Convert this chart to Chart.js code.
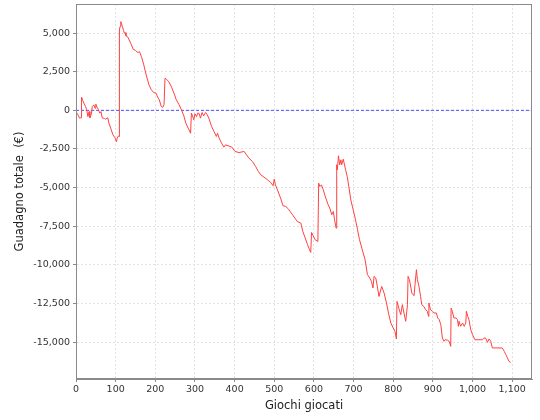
<!DOCTYPE html>
<html>
<head>
<meta charset="utf-8">
<script src="https://cdn.jsdelivr.net/npm/chart.js@4.4.0/dist/chart.umd.min.js"></script>
<style>
  html, body { margin: 0; padding: 0; background: #fff; }
</style>
</head>
<body>
<canvas id="chart" width="540" height="420"></canvas>
<script>
// x = games played, y = running total (EUR)
const gamesPlayed = [
  0, 5, 9, 13, 14, 17, 20, 24, 27, 30, 33, 35, 39, 41, 45, 48, 50, 53, 56, 60,
  63, 66, 72, 75, 80, 83, 89, 93, 98, 102, 104, 107, 108.5, 109.5, 111, 113, 117, 120, 122, 124,
  126, 131, 138, 144, 150, 156, 160, 165, 171, 177, 184, 190, 196, 202, 206, 210, 215, 219, 222, 224.5,
  228, 234, 241, 247, 253, 260, 266, 272, 277, 283, 289, 291, 294, 297, 300, 304, 307, 310, 314, 318,
  322, 327, 331, 335, 342, 348, 354, 357, 361, 367, 373, 377, 393, 401, 411, 424, 430, 436, 445, 453,
  460, 466, 474, 483, 491, 497, 500, 503, 508, 516, 522, 529, 536, 540, 546, 552, 558, 567, 572, 578,
  584, 589, 592, 594, 598, 603, 610, 612, 615, 619, 623, 630, 636, 640, 645, 649, 652, 656, 657.5, 659,
  662, 665, 668, 670, 674, 680, 684, 688, 693, 699, 704, 710, 715, 722, 729, 735, 741, 745, 749, 751.6,
  756, 760, 764, 771, 777, 783, 788, 794, 800, 804.5, 808, 809.6, 814, 819, 823, 827, 831.5, 836, 837.4, 841,
  847, 852.5, 855, 858.5, 861, 865, 869, 872, 877, 882, 886, 889, 890, 894, 899, 903, 909, 912, 916, 920,
  924, 928, 931, 937, 941, 945, 946, 949, 953, 958, 962, 964.5, 966, 970, 975, 979, 983, 984.6, 988, 991,
  995.5, 1000, 1006, 1025, 1029, 1033, 1037.5, 1041.6, 1046, 1050, 1075, 1080, 1084, 1088, 1092, 1096
];
const totalWinnings = [
  -80, -290, -505, -480, 853, 634, 465, 246, 32, -400, -78, -480, -226, 246, 356, 140, 400, 205, 76, -180,
  -80, -480, -530, -570, -480, -830, -1260, -1580, -1760, -2020, -1800, -1650, -1690, 5200, 5420, 5740, 5420, 5160, 4990, 5030,
  4820, 4730, 4340, 3960, 3870, 3740, 3800, 3480, 2940, 2290, 1650, 1330, 1150, 1110, 850, 680, 250, 200, 360, 2080,
  2010, 1860, 1500, 1110, 680, 360, 32, -360, -830, -1150, -1480, -180, -360, -610, -226, -400, -180, -180, -505, -140,
  -355, -140, -290, -505, -1050, -1370, -1690, -1480, -1800, -2120, -2380, -2230, -2380, -2660, -2730, -2660, -2880, -3090, -3310, -3630,
  -3960, -4170, -4320, -4490, -4670, -4880, -4450, -4820, -5140, -5680, -6170, -6220, -6390, -6540, -6750, -6970, -7190, -7290, -7830, -8260,
  -8690, -9020, -9190, -7900, -8110, -8370, -8480, -4710, -4930, -4820, -5100, -5680, -6110, -6320, -6750, -6540, -7080, -7620, -3520, -3850,
  -2940, -3520, -3200, -3520, -3160, -3850, -4280, -4930, -5790, -6430, -6970, -7720, -8370, -9020, -9660, -10630, -10850, -11060, -11490, -10740,
  -10850, -11390, -12040, -11390, -11820, -12460, -13110, -13760, -14080, -14300, -14790, -12360, -12790, -13220, -12570, -13110, -13650, -12570, -10740, -10960,
  -11820, -11990, -11280, -10310, -10960, -11390, -12040, -12570, -12680, -12900, -13000, -13330, -12460, -12900, -13000, -13110, -13110, -13430, -13540, -13870,
  -14730, -14940, -14840, -14870, -14940, -15270, -12790, -13000, -13430, -13430, -13540, -13970, -13650, -13970, -13760, -13970, -13760, -13000, -13330, -13540,
  -14190, -14510, -14840, -14840, -14730, -14730, -15010, -14790, -14940, -15370, -15370, -15590, -15800, -16020, -16240, -16300
];
const zeroLineX = [0, 1150];
const zeroLineY = [0, 0];

const xTicks = [0, 100, 200, 300, 400, 500, 600, 700, 800, 900, 1000, 1100];
const yTicks = [-15000, -12500, -10000, -7500, -5000, -2500, 0, 2500, 5000];
const xMin = 0;
const xMax = 1150;
const yMin = -17380;
const yMax = 6880;

const xLabel = "Giochi giocati";
const yLabel = "Guadagno totale  (€)";

const toPoints = (xs, ys) => xs.map((x, i) => ({ x, y: ys[i] }));
const fmt = (v) => v.toLocaleString("en-US");

const plotOutline = {
  id: "plotOutline",
  afterDraw(chart) {
    const { ctx, chartArea: a } = chart;
    ctx.save();
    ctx.strokeStyle = "#8a8a8a";
    ctx.lineWidth = 1;
    ctx.strokeRect(Math.round(a.left) + 0.5, Math.round(a.top) + 0.5,
      Math.round(a.right - a.left) - 1, Math.round(a.bottom - a.top) - 1);
    ctx.restore();
  },
};

const tickFont = { family: "'DejaVu Sans', sans-serif", size: 9.5 };
const titleFont = { family: "'DejaVu Sans', sans-serif", size: 11.5 };

new Chart(document.getElementById("chart"), {
  type: "scatter",
  data: {
    datasets: [
      {
        label: "Guadagno",
        data: toPoints(gamesPlayed, totalWinnings),
        showLine: true,
        borderColor: "#ff4040",
        borderWidth: 1,
        pointRadius: 0,
        tension: 0,
      },
      {
        label: "zero",
        data: toPoints(zeroLineX, zeroLineY),
        showLine: true,
        borderColor: "#5050ff",
        borderWidth: 1,
        borderDash: [3, 2],
        pointRadius: 0,
      },
    ],
  },
  options: {
    responsive: false,
    animation: false,
    events: [],
    layout: { padding: { top: 4, right: 8, left: 0, bottom: 0 } },
    plugins: {
      legend: { display: false },
      tooltip: { enabled: false },
    },
    scales: {
      x: {
        type: "linear",
        min: xMin,
        max: xMax,
        afterFit(scale) {
          scale.height = 41;
          scale.paddingLeft = 0;
          scale.paddingRight = 0;
        },
        afterBuildTicks(scale) { scale.ticks = xTicks.map((value) => ({ value })); },
        ticks: {
          color: "#333",
          font: tickFont,
          padding: 2,
          maxRotation: 0,
          autoSkip: false,
          callback: (v) => fmt(v),
        },
        grid: { color: "#e2e2e2", tickColor: "#8a8a8a", tickLength: 3, tickBorderDash: [] },
        border: { color: "#8a8a8a", dash: [2, 2] },
        title: { display: true, text: xLabel, color: "#222", font: titleFont, padding: { top: 0, bottom: 7 } },
      },
      y: {
        type: "linear",
        min: yMin,
        max: yMax,
        afterFit(scale) {
          scale.width = 76;
          scale.paddingTop = 0;
          scale.paddingBottom = 0;
        },
        afterBuildTicks(scale) { scale.ticks = yTicks.map((value) => ({ value })); },
        ticks: {
          color: "#333",
          font: tickFont,
          padding: 3,
          autoSkip: false,
          callback: (v) => fmt(v),
        },
        grid: { color: "#e2e2e2", tickColor: "#8a8a8a", tickLength: 3, tickBorderDash: [] },
        border: { color: "#8a8a8a", dash: [2, 2] },
        title: { display: true, text: yLabel, color: "#222", font: titleFont, padding: { top: 13, bottom: 0 } },
      },
    },
  },
  plugins: [plotOutline],
});
</script>
</body>
</html>
